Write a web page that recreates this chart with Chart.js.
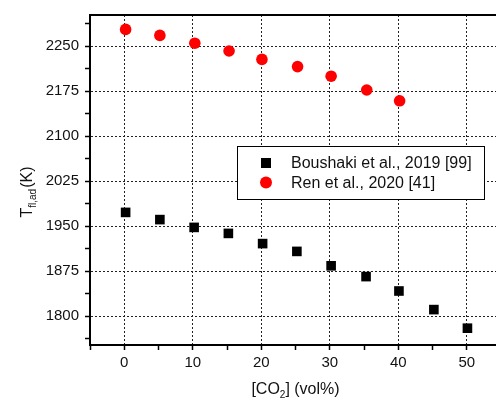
<!DOCTYPE html>
<html>
<head>
<meta charset="utf-8">
<script src="https://cdn.jsdelivr.net/npm/chart.js@4/dist/chart.umd.min.js"></script>
<style>
  body { margin: 0; overflow: hidden; background: #fff; }
</style>
</head>
<body>
<canvas id="c" width="512" height="403"></canvas>
<script>
// CO2 content (vol%) and adiabatic flame temperature (K)
const boushakiX = [0.2, 5.2, 10.2, 15.2, 20.2, 25.2, 30.2, 35.3, 40.1, 45.2, 50.1];
const boushakiY = [1973, 1961, 1948, 1938, 1921, 1908, 1884, 1866, 1842, 1811, 1780];
const renX = [0.2, 5.2, 10.3, 15.3, 20.1, 25.3, 30.2, 35.4, 40.2];
const renY = [2278, 2268, 2255, 2242, 2228, 2216, 2200, 2177, 2159];
const seriesLabels = ['Boushaki et al., 2019 [99]', 'Ren et al., 2020 [41]'];
const xTicks = [0, 10, 20, 30, 40, 50];
const yTicks = [1800, 1875, 1950, 2025, 2100, 2175, 2250];

const FONT = '"Liberation Sans", Arial, sans-serif';

const pts = (xs, ys) => xs.map((x, i) => ({ x: x, y: ys[i] }));

// axis titles with subscripts, top frame line and the legend box
const extras = {
  id: 'extras',
  afterDatasetsDraw(chart) {
    const ctx = chart.ctx;
    const a = chart.chartArea;
    ctx.save();

    // top frame
    ctx.strokeStyle = '#000';
    ctx.lineWidth = 2;
    ctx.beginPath();
    ctx.moveTo(a.left - 1, a.top);
    ctx.lineTo(a.right, a.top);
    ctx.stroke();

    // legend
    const bx = 237, by = 146, bw = 247, bh = 53;
    ctx.fillStyle = '#fff';
    ctx.fillRect(bx, by, bw, bh);
    ctx.lineWidth = 1;
    ctx.strokeStyle = '#000';
    ctx.strokeRect(bx + 0.5, by + 0.5, bw, bh);
    chart.data.datasets.forEach((ds, i) => {
      const cy = 163 + i * 19.5;
      ctx.fillStyle = ds.backgroundColor;
      if (ds.pointStyle === 'rect') {
        ctx.fillRect(261, cy - 5, 10, 10);
      } else {
        ctx.beginPath();
        ctx.arc(266, cy, 6, 0, Math.PI * 2);
        ctx.fill();
      }
      ctx.fillStyle = '#111';
      ctx.font = '16px ' + FONT;
      ctx.textBaseline = 'middle';
      ctx.textAlign = 'left';
      ctx.fillText(ds.label, 291, cy + 1);
    });

    // x title: [CO2] (vol%)
    ctx.fillStyle = '#111';
    ctx.textBaseline = 'alphabetic';
    ctx.textAlign = 'left';
    const big = '16px ' + FONT, small = '10px ' + FONT;
    ctx.font = big;
    const w1 = ctx.measureText('[CO').width;
    const w3 = ctx.measureText('] (vol%)').width;
    ctx.font = small;
    const w2 = ctx.measureText('2').width;
    let x = (a.left + a.right) / 2 - (w1 + w2 + w3) / 2;
    const y = 394;
    ctx.font = big; ctx.fillText('[CO', x, y); x += w1;
    ctx.font = small; ctx.fillText('2', x, y + 4); x += w2;
    ctx.font = big; ctx.fillText('] (vol%)', x, y);

    // y title: T fl,ad (K)
    ctx.translate(26, 192);
    ctx.rotate(-Math.PI / 2);
    const s1 = 'T', s2 = 'fl,ad', s3 = '(K)';
    ctx.font = big;
    const t1 = ctx.measureText(s1).width;
    const t3 = ctx.measureText(s3).width;
    ctx.font = small;
    const t2 = ctx.measureText(s2).width;
    let tx = -(t1 + t2 + t3 + 1) / 2;
    ctx.font = big; ctx.fillText(s1, tx, 6); tx += t1;
    ctx.font = small; ctx.fillText(s2, tx, 10); tx += t2 + 1;
    ctx.font = big; ctx.fillText(s3, tx, 6);

    ctx.restore();
  }
};

const gridColor = (ticksShown) => (c) =>
  c.tick && ticksShown.includes(c.tick.value) ? '#222' : 'rgba(0,0,0,0)';

new Chart(document.getElementById('c'), {
  type: 'scatter',
  data: {
    datasets: [
      {
        label: seriesLabels[0],
        data: pts(boushakiX, boushakiY),
        pointStyle: 'rect',
        pointRadius: 6.8,
        pointHoverRadius: 6.8,
        backgroundColor: '#000',
        borderColor: '#000',
        borderWidth: 0
      },
      {
        label: seriesLabels[1],
        data: pts(renX, renY),
        pointStyle: 'circle',
        pointRadius: 5.8,
        pointHoverRadius: 5.8,
        backgroundColor: '#ff0000',
        borderColor: '#ff0000',
        borderWidth: 0
      }
    ]
  },
  options: {
    responsive: false,
    animation: false,
    devicePixelRatio: 1,
    layout: { padding: { left: 0, right: 11, top: 12, bottom: 0 } },
    plugins: { legend: { display: false }, tooltip: { enabled: false } },
    scales: {
      x: {
        type: 'linear',
        min: -5,
        max: 55,
        afterFit: (s) => { s.height = 58; },
        ticks: {
          stepSize: 5,
          includeBounds: false,
          autoSkip: false,
          maxRotation: 0,
          padding: 4,
          color: '#111',
          font: { family: FONT, size: 15 },
          callback: (v) => (xTicks.includes(v) ? String(v) : '')
        },
        grid: {
          color: gridColor(xTicks),
          lineWidth: 1,
          tickLength: 5,
          tickColor: '#000',
          tickWidth: 1.5
        },
        border: { color: '#000', width: 2, dash: [2, 2] }
      },
      y: {
        type: 'linear',
        min: 1752,
        max: 2302,
        afterFit: (s) => { s.width = 90; },
        ticks: {
          stepSize: 37.5,
          includeBounds: false,
          autoSkip: false,
          padding: 6,
          color: '#111',
          font: { family: FONT, size: 15 },
          callback: (v) => (yTicks.includes(v) ? String(v) : '')
        },
        grid: {
          color: gridColor(yTicks),
          lineWidth: 1,
          tickLength: 5,
          tickColor: '#000',
          tickWidth: 1.5
        },
        border: { color: '#000', width: 2, dash: [2, 2] }
      }
    }
  },
  plugins: [extras]
});
</script>
</body>
</html>
